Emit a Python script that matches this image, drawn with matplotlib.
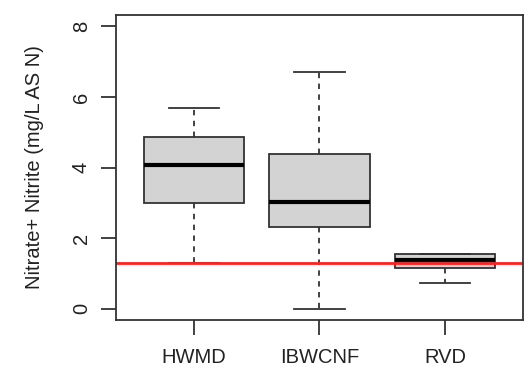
import matplotlib
matplotlib.use("Agg")
import matplotlib.pyplot as plt

plt.rcParams["font.family"] = ["Liberation Sans", "DejaVu Sans"]

# box statistics
sites = ["HWMD", "IBWCNF", "RVD"]
whisk_lo = [1.29, 0.0, 0.72]
q1 = [3.0, 2.31, 1.14]
median = [4.06, 3.01, 1.38]
q3 = [4.86, 4.37, 1.54]
whisk_hi = [5.69, 6.72, 1.54]
limit = 1.29  # red reference line

stats = []
for i, s in enumerate(sites):
    stats.append({"label": s, "whislo": whisk_lo[i], "q1": q1[i], "med": median[i],
                  "q3": q3[i], "whishi": whisk_hi[i], "fliers": []})

fig = plt.figure(figsize=(5.26, 3.76), dpi=100)
ax = fig.add_axes([0.2205, 0.149, 0.7738, 0.811])

edge = "#333333"
ax.bxp(stats, positions=[1, 2, 3], widths=0.8, patch_artist=True, showfliers=False,
       boxprops=dict(facecolor="#d3d3d3", edgecolor=edge, linewidth=1.3),
       medianprops=dict(color="black", linewidth=3),
       whiskerprops=dict(color=edge, linewidth=1.3, linestyle=(0, (3, 3))),
       capprops=dict(color=edge, linewidth=1.3),
       capwidths=0.4)

ax.axhline(limit, color="#ff2020", linewidth=2)

ax.set_xlim(0.38, 3.62)
ax.set_ylim(-0.32, 8.32)
ax.set_yticks([0, 2, 4, 6, 8])
ax.set_xticks([1, 2, 3])
ax.set_xticklabels(sites)
for sp in ax.spines.values():
    sp.set_color(edge)
    sp.set_linewidth(1.3)
ax.tick_params(axis="both", colors=edge, length=11, width=1.3, labelsize=14.5,
               labelcolor="#222222")
ax.tick_params(axis="x", pad=9)
ax.tick_params(axis="y", pad=7)
for lab in ax.get_yticklabels():
    lab.set_rotation(90)
    lab.set_va("center")
ax.set_ylabel("Nitrate+ Nitrite (mg/L AS N)", fontsize=14.5, color="#222222", labelpad=20)

fig.savefig("out.png", dpi=100)
